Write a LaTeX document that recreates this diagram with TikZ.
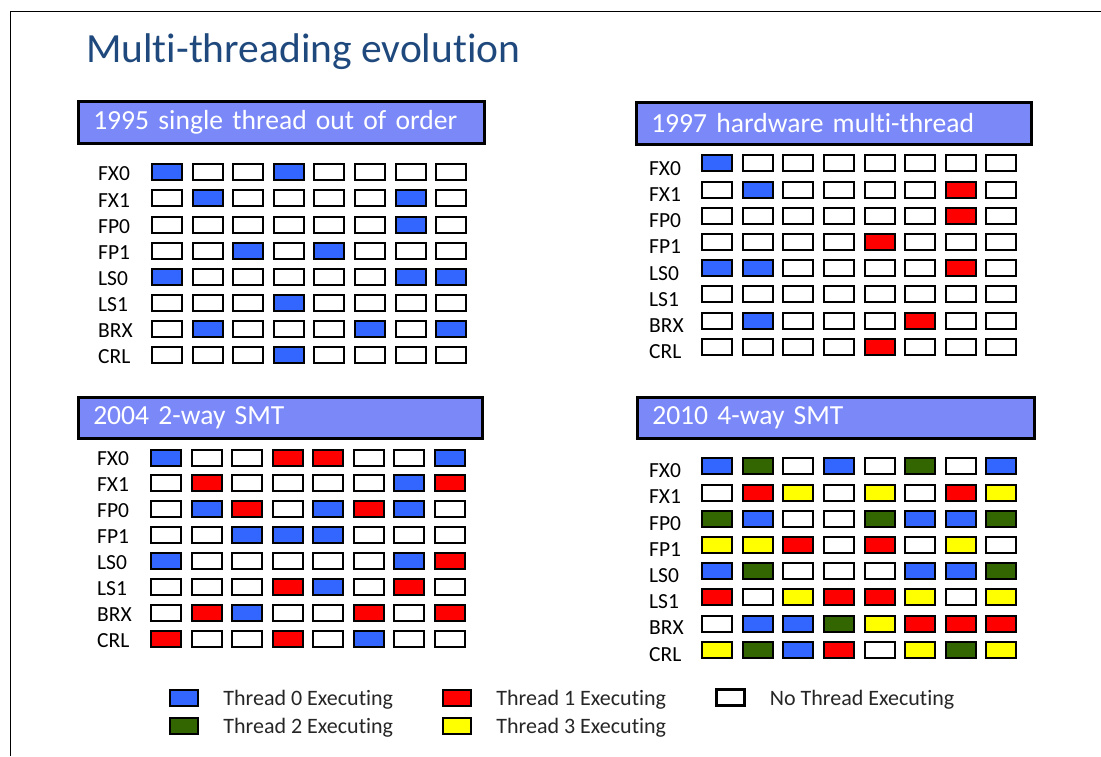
\documentclass[tikz,border=0pt]{standalone}
\usepackage{fontspec}
\setmainfont{Carlito}[Ligatures=NoCommon]
\usepackage{xcolor}
\usepackage{tikz}
\usetikzlibrary{positioning}
\definecolor{titleblue}{HTML}{1F497D}
\definecolor{hdrblue}{HTML}{7B88F8}
\definecolor{cB}{HTML}{3366FF}
\definecolor{cR}{HTML}{FF0000}
\definecolor{cG}{HTML}{336600}
\definecolor{cY}{HTML}{FFFF00}
\definecolor{cW}{HTML}{FFFFFF}

\begin{document}
\begin{tikzpicture}[x=1pt, y=-1pt]
		%% one slot of an execution unit in one cycle
		\tikzstyle{slot}=[draw=black, line width=2pt, minimum width=30pt, minimum height=16pt, inner sep=0pt]
		\tikzstyle{unitlbl}=[anchor=west, inner sep=0pt, font=\fontsize{21.5}{24}\selectfont, text=black]
		\tikzstyle{hdr}=[draw=black, line width=2.5pt, fill=hdrblue, text=white, anchor=north west, align=left, inner xsep=15pt, font=\fontsize{27.6}{32}\selectfont]
		\tikzstyle{legbox}=[draw=black, line width=2.5pt, minimum width=28pt, minimum height=16pt, inner sep=0pt]
		\tikzstyle{legtext}=[inner sep=0pt, font=\fontsize{22}{26}\selectfont, text=black!85]
		
		\useasboundingbox (0,0) rectangle (1101,756);
		\draw[line width=1pt] (10,756) -- (10,11) -- (1101,11);
		
		\node[anchor=base west, inner sep=0pt, text=titleblue, font=\fontsize{41.5}{50}\selectfont] (title) at (86,62) {Multi-threading evolution};
		
		%% headers
		\node[hdr, minimum width=406pt, minimum height=42pt, text width=376pt] (H1) at (77,100) {1995 single thread out of order};
		\node[hdr, minimum width=395pt, minimum height=42pt, text width=365pt] (H2) at (635,101) {1997 hardware multi-thread};
		\node[hdr, minimum width=404pt, minimum height=41pt, text width=374pt] (H3) at (77,396) {2004 2-way SMT};
		\node[hdr, minimum width=397pt, minimum height=41pt, text width=367pt] (H4) at (636,396) {2010 4-way SMT};
		
		%% 1995
		\foreach \lab/\a/\b/\c/\d/\e/\f/\g/\h [count=\r] in {FX0/B/W/W/B/W/W/W/W, FX1/W/B/W/W/W/W/B/W, FP0/W/W/W/W/W/W/B/W, FP1/W/W/B/W/B/W/W/W, LS0/B/W/W/W/W/W/B/B, LS1/W/W/W/B/W/W/W/W, BRX/W/B/W/W/W/B/W/B, CRL/W/W/W/B/W/W/W/W}{
			\node[unitlbl] (A-\r) at (98,{174+(\r-1)*26.1}) {\lab};
			\foreach \s [count=\k] in {\a,\b,\c,\d,\e,\f,\g,\h}
				\node[slot, fill=c\s] (A-\r-\k) at ({167+(\k-1)*40.6},{172.3+(\r-1)*26.1}) {};
		}
		
		%% 1997
		\foreach \lab/\a/\b/\c/\d/\e/\f/\g/\h [count=\r] in {FX0/B/W/W/W/W/W/W/W, FX1/W/B/W/W/W/W/R/W, FP0/W/W/W/W/W/W/R/W, FP1/W/W/W/W/R/W/W/W, LS0/B/B/W/W/W/W/R/W, LS1/W/W/W/W/W/W/W/W, BRX/W/B/W/W/W/R/W/W, CRL/W/W/W/W/R/W/W/W}{
			\node[unitlbl] (B-\r) at (649,{168.3+(\r-1)*26.2}) {\lab};
			\foreach \s [count=\k] in {\a,\b,\c,\d,\e,\f,\g,\h}
				\node[slot, fill=c\s] (B-\r-\k) at ({717.2+(\k-1)*40.6},{163.3+(\r-1)*26.2}) {};
		}
		
		%% 2004
		\foreach \lab/\a/\b/\c/\d/\e/\f/\g/\h [count=\r] in {FX0/B/W/W/R/R/W/W/B, FX1/W/R/W/W/W/W/B/R, FP0/W/B/R/W/B/R/B/W, FP1/W/W/B/B/B/W/W/W, LS0/B/W/W/W/W/W/B/R, LS1/W/W/W/R/B/W/R/W, BRX/W/R/B/W/W/R/W/R, CRL/R/W/W/R/W/B/W/W}{
			\node[unitlbl] (C-\r) at (97,{459+(\r-1)*25.96}) {\lab};
			\foreach \s [count=\k] in {\a,\b,\c,\d,\e,\f,\g,\h}
				\node[slot, fill=c\s] (C-\r-\k) at ({166+(\k-1)*40.5},{457.5+(\r-1)*25.96}) {};
		}
		
		%% 2010
		\foreach \lab/\a/\b/\c/\d/\e/\f/\g/\h [count=\r] in {FX0/B/G/W/B/W/G/W/B, FX1/W/R/Y/W/Y/W/R/Y, FP0/G/B/W/W/G/B/B/G, FP1/Y/Y/R/W/R/W/Y/W, LS0/B/G/W/W/W/B/B/G, LS1/R/W/Y/R/R/Y/W/Y, BRX/W/B/B/G/Y/R/R/R, CRL/Y/G/B/R/W/Y/G/Y}{
			\node[unitlbl] (D-\r) at (649,{470.7+(\r-1)*26.2}) {\lab};
			\foreach \s [count=\k] in {\a,\b,\c,\d,\e,\f,\g,\h}
				\node[slot, fill=c\s] (D-\r-\k) at ({717.2+(\k-1)*40.6},{466.3+(\r-1)*26.2}) {};
		}
		
		%% legend
		\node[legbox, fill=cB] (L0) at (184,698) {};
		\node[legtext, right=24pt of L0, yshift=-2pt] (T0) {Thread 0 Executing};
		\node[legbox, fill=cR] (L1) at (457,698) {};
		\node[legtext, right=24pt of L1, yshift=-2pt] (T1) {Thread 1 Executing};
		\node[legbox, fill=cW] (LN) at (730.5,697.5) {};
		\node[legtext, right=24pt of LN, yshift=-2pt] (TN) {No Thread Executing};
		\node[legbox, fill=cG] (L2) at (184,726) {};
		\node[legtext, right=24pt of L2, yshift=-2pt] (T2) {Thread 2 Executing};
		\node[legbox, fill=cY] (L3) at (457,726) {};
		\node[legtext, right=24pt of L3, yshift=-2pt] (T3) {Thread 3 Executing};
		
		\end{tikzpicture}
\end{document}
